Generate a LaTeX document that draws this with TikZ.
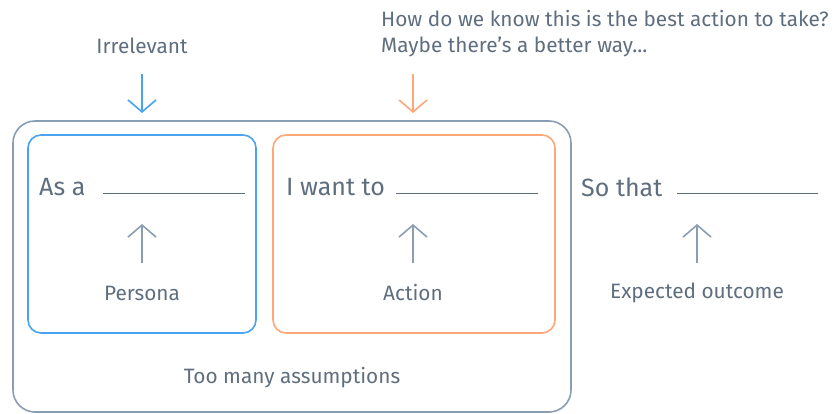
\documentclass[tikz,border=0pt]{standalone}
\usepackage{fontspec}
\setmainfont{Fira Sans}
\usetikzlibrary{arrows.meta}
\definecolor{txt}{HTML}{5F6E7E}
\definecolor{gbox}{HTML}{8A9DB2}
\definecolor{bbox}{HTML}{4AA3F0}
\definecolor{obox}{HTML}{FFA877}
\tikzset{
  lbl/.style={text=txt,font=\fontsize{20.8}{26}\selectfont,inner sep=0pt},
  big/.style={text=txt,font=\fontsize{25}{30}\selectfont,inner sep=0pt,anchor=west},
  blank/.style={draw=txt,line width=1pt},
  arr/.style={line width=1.6pt,-{Straight Barb[length=12pt,width=28pt,line width=1.6pt]}},
}
\begin{document}
\begin{tikzpicture}[x=1pt,y=-1pt]
\useasboundingbox (0,0) rectangle (835,414);
\draw[gbox,line width=1.6pt,rounded corners=22pt] (13,121) rectangle (571,412);
\draw[bbox,line width=1.6pt,rounded corners=13pt] (28,135) rectangle (256,333);
\draw[obox,line width=1.6pt,rounded corners=13pt] (273,135) rectangle (555,333);

\node[lbl] (irr) at (142,46) {Irrelevant};
\node[lbl,anchor=west,align=left] (how) at (381,34) {How do we know this is the best action to take?\\Maybe there’s a better way...};

\coordinate (a1s) at (142,74); \coordinate (a1e) at (142,113);
\coordinate (a2s) at (413,74); \coordinate (a2e) at (413,113);
\draw[arr,bbox] (a1s) -- (a1e);
\draw[arr,obox] (a2s) -- (a2e);

\node[big] (asa) at (39,187) {As a};
\node[big] (iwant) at (286,187) {I want to};
\node[big] (so) at (581,187) {So that};
\coordinate (l1a) at (103,194); \coordinate (l1b) at (245,194);
\coordinate (l2a) at (396,194); \coordinate (l2b) at (538,194);
\coordinate (l3a) at (677,194); \coordinate (l3b) at (818,194);
\draw[blank] (l1a) -- (l1b);
\draw[blank] (l2a) -- (l2b);
\draw[blank] (l3a) -- (l3b);

\node[lbl] (per) at (142,293) {Persona};
\node[lbl] (act) at (413,293) {Action};
\node[lbl] (exp) at (697,293) {Expected outcome};
\node[lbl] (too) at (292,378) {Too many assumptions};

\draw[arr,gbox] (142,263) -- (142,224);
\draw[arr,gbox] (413,263) -- (413,224);
\draw[arr,gbox] (697,263) -- (697,224);
\end{tikzpicture}
\end{document}
